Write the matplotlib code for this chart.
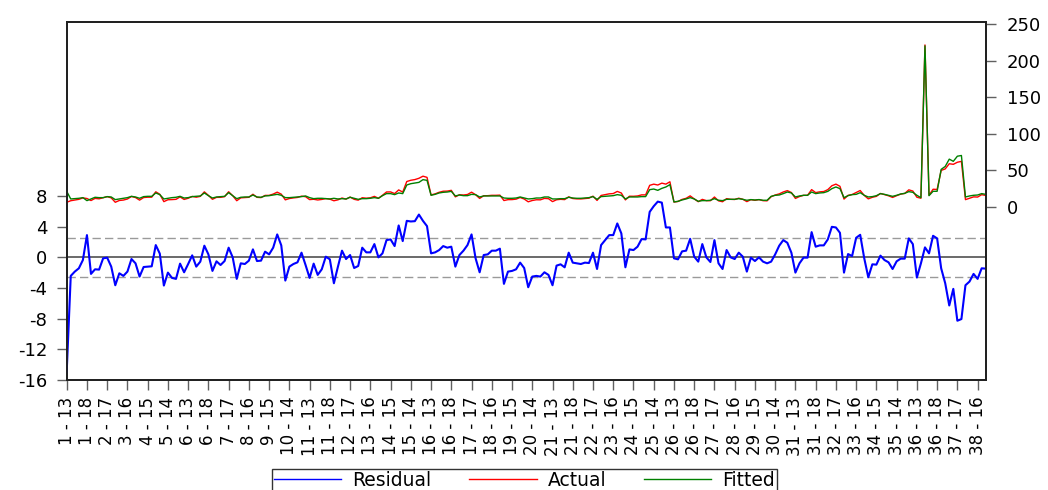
import matplotlib
matplotlib.use("Agg")
import matplotlib.pyplot as plt
from matplotlib.lines import Line2D

# Residual series (left axis)
residual = [
    -14.94, -2.42, -1.86, -1.43, -0.35, 2.90, -2.16, -1.56, -1.60, -0.13,
    -0.04, -1.21, -3.64, -2.08, -2.42, -1.86, -0.22, -0.78, -2.51, -1.26,
    -1.21, -1.17, 1.60, 0.48, -3.68, -1.99, -2.68, -2.81, -0.82, -1.95,
    -0.87, 0.26, -1.21, -0.56, 1.52, 0.39, -1.77, -0.52, -1.00, -0.48,
    1.26, 0.00, -2.81, -0.78, -0.87, -0.43, 1.04, -0.48, -0.43, 0.74,
    0.39, 1.26, 2.99, 1.56, -3.03, -1.21, -0.87, -0.65, 0.61, -1.00,
    -2.68, -0.82, -2.29, -1.56, 0.09, -0.26, -3.38, -1.21, 0.87, -0.22,
    0.30, -1.39, -1.13, 1.26, 0.65, 0.65, 1.73, 0.00, 0.52, 2.25,
    2.34, 1.47, 4.16, 2.12, 4.76, 4.68, 4.72, 5.58, 4.76, 4.07,
    0.52, 0.65, 0.95, 1.47, 1.26, 1.39, -1.21, 0.30, 0.87, 1.60,
    2.99, -0.13, -1.95, 0.30, 0.39, 0.87, 0.87, 1.13, -3.46, -1.86,
    -1.77, -1.56, -0.69, -1.39, -3.90, -2.51, -2.42, -2.51, -1.95, -2.29,
    -3.64, -1.08, -0.91, -1.30, 0.61, -0.69, -0.78, -0.87, -0.69, -0.74,
    0.61, -1.52, 1.60, 2.25, 2.90, 2.90, 4.42, 3.12, -1.30, 1.04,
    0.95, 1.39, 2.38, 2.34, 5.93, 6.67, 7.27, 7.14, 3.90, 3.90,
    -0.13, -0.26, 0.78, 0.87, 2.42, 0.09, -0.56, 1.73, 0.00, -0.61,
    2.25, -0.78, -1.52, 0.95, 0.00, -0.22, 0.61, 0.09, -1.86, -0.04,
    -0.48, 0.00, -0.56, -0.78, -0.56, 0.39, 1.52, 2.25, 1.90, 0.61,
    -1.99, -0.78, -0.04, -0.04, 3.29, 1.39, 1.56, 1.56, 2.34, 3.98,
    3.90, 3.20, -1.99, 0.43, 0.17, 2.55, 2.94, -0.13, -2.60, -0.91,
    -0.95, 0.22, -0.35, -0.65, -1.52, -0.52, -0.17, -0.17, 2.47, 1.73,
    -2.64, -0.78, 1.30, 0.52, 2.81, 2.47, -1.43, -3.38, -6.28, -4.11,
    -8.27, -8.05, -3.64, -3.16, -2.16, -2.81, -1.43, -1.47,
]

# Fitted series (right axis)
fitted = [
    20.9, 10.5, 10.9, 11.4, 12.3, 8.2, 10.5, 12.8, 12.3, 12.3,
    13.7, 13.2, 9.6, 10.5, 11.4, 12.3, 14.1, 13.2, 11.4, 13.7,
    14.1, 14.1, 18.7, 16.4, 10.5, 11.4, 12.3, 12.8, 14.1, 11.8,
    12.3, 13.7, 14.1, 14.6, 18.7, 15.0, 11.8, 13.2, 13.7, 14.1,
    19.1, 15.0, 10.9, 12.8, 13.2, 13.2, 15.9, 13.2, 12.8, 14.6,
    15.0, 15.9, 16.8, 15.5, 12.3, 12.3, 12.8, 13.2, 13.7, 14.6,
    12.3, 10.9, 11.4, 11.4, 10.9, 10.5, 11.4, 10.5, 10.9, 10.5,
    12.8, 11.4, 10.0, 10.9, 10.9, 11.4, 12.3, 11.4, 15.0, 17.8,
    17.8, 16.4, 18.7, 17.8, 29.6, 31.4, 32.3, 33.2, 36.9, 36.0,
    15.5, 16.8, 18.7, 19.6, 20.0, 20.9, 14.6, 15.9, 15.0, 15.0,
    16.8, 16.4, 13.2, 14.6, 14.6, 14.6, 14.6, 14.6, 11.8, 11.4,
    11.4, 11.8, 13.2, 11.8, 10.5, 10.9, 11.8, 11.8, 13.2, 13.2,
    10.5, 10.5, 10.9, 10.9, 12.8, 11.8, 11.4, 11.4, 11.8, 12.3,
    13.7, 10.0, 13.7, 14.1, 14.6, 15.0, 16.4, 15.5, 10.5, 13.2,
    13.2, 13.2, 13.7, 13.7, 23.2, 24.1, 22.3, 25.0, 26.9, 30.1,
    6.4, 7.3, 9.1, 10.5, 12.3, 10.5, 7.3, 8.2, 8.2, 8.7,
    10.9, 8.7, 8.2, 10.0, 10.0, 10.0, 10.9, 10.0, 8.7, 9.6,
    9.1, 9.6, 8.7, 8.7, 14.1, 15.5, 15.9, 17.8, 20.0, 18.7,
    13.2, 14.6, 15.5, 15.5, 20.0, 17.8, 18.7, 19.1, 20.9, 24.6,
    26.9, 24.6, 12.3, 15.0, 16.4, 16.8, 19.1, 15.5, 13.2, 13.7,
    15.0, 17.8, 16.8, 15.5, 14.1, 15.5, 17.3, 18.2, 20.5, 19.6,
    15.5, 12.3, 220.0, 15.0, 21.0, 21.0, 51.0, 55.0, 65.0, 62.0,
    69.0, 70.0, 13.2, 14.6, 15.5, 15.9, 17.8, 16.8,
]

# Actual = Fitted + Residual
actual = [f + r for f, r in zip(fitted, residual)]

tick_labels = [
    "1 - 13", "1 - 18", "2 - 17", "3 - 16", "4 - 15", "5 - 14", "6 - 13",
    "6 - 18", "7 - 17", "8 - 16", "9 - 15", "10 - 14", "11 - 13", "11 - 18",
    "12 - 17", "13 - 16", "14 - 15", "15 - 14", "16 - 13", "16 - 18",
    "17 - 17", "18 - 16", "19 - 15", "20 - 14", "21 - 13", "21 - 18",
    "22 - 17", "23 - 16", "24 - 15", "25 - 14", "26 - 13", "26 - 18",
    "27 - 17", "28 - 16", "29 - 15", "30 - 14", "31 - 13", "31 - 18",
    "32 - 17", "33 - 16", "34 - 15", "35 - 14", "36 - 13", "36 - 18",
    "37 - 17", "38 - 16",
]
left_ticks = [-16, -12, -8, -4, 0, 4, 8]
right_ticks = [0, 50, 100, 150, 200, 250]
std_err = 2.5
series_names = ["Residual", "Actual", "Fitted"]

plt.rcParams['font.family'] = ['DejaVu Sans']

x = list(range(len(residual)))

fig = plt.figure(figsize=(10.48, 4.9), dpi=100)
ax = fig.add_axes([66.7 / 1048, 1 - 380 / 490, 919 / 1048, 358 / 490])

ax.axhline(0, color='#505050', lw=1.2, zorder=1)
ax.axhline(std_err, color='#9a9a9a', lw=1.0, ls=(0, (6, 3)), zorder=1)
ax.axhline(-std_err, color='#9a9a9a', lw=1.0, ls=(0, (6, 3)), zorder=1)
ax.plot(x, residual, color='#0000ff', lw=1.5, zorder=3)

ax2 = ax.twinx()
ax2.plot(x, actual, color='#ff0000', lw=1.0)
ax2.plot(x, fitted, color='#008000', lw=1.0)

ax.set_xlim(0, len(x) - 1)
ax.set_ylim(-16, 30.7)
ax2.set_ylim(-237.3, 252.7)

ax.set_yticks(left_ticks)
ax.set_yticklabels([str(v) for v in left_ticks], fontsize=13)
ax2.set_yticks(right_ticks)
ax2.set_yticklabels([str(v) for v in right_ticks], fontsize=13)
ax.set_xticks(list(range(0, len(x), 5)))
ax.set_xticklabels(tick_labels, rotation=90, fontsize=12)

for a in (ax, ax2):
    a.tick_params(direction='out', length=7, width=1.0, color='#606060', pad=5)
    for s in a.spines.values():
        s.set_color('#202020')
        s.set_linewidth(1.3)
ax.tick_params(axis='y', pad=7)
ax2.tick_params(axis='y', pad=8)

handles = [Line2D([], [], color='#0000ff', lw=1.0),
           Line2D([], [], color='#ff0000', lw=1.0),
           Line2D([], [], color='#008000', lw=1.0)]
leg = fig.legend(handles, series_names, loc='upper center',
                 bbox_to_anchor=(524.5 / 1048, 1 - 469 / 490), ncol=3,
                 fontsize=13.5, frameon=True, fancybox=False, edgecolor='black',
                 handlelength=3.6, handletextpad=0.6, columnspacing=2.0,
                 borderpad=0.08, borderaxespad=0)
leg.get_frame().set_linewidth(1.0)

fig.savefig("out.png", dpi=100)
